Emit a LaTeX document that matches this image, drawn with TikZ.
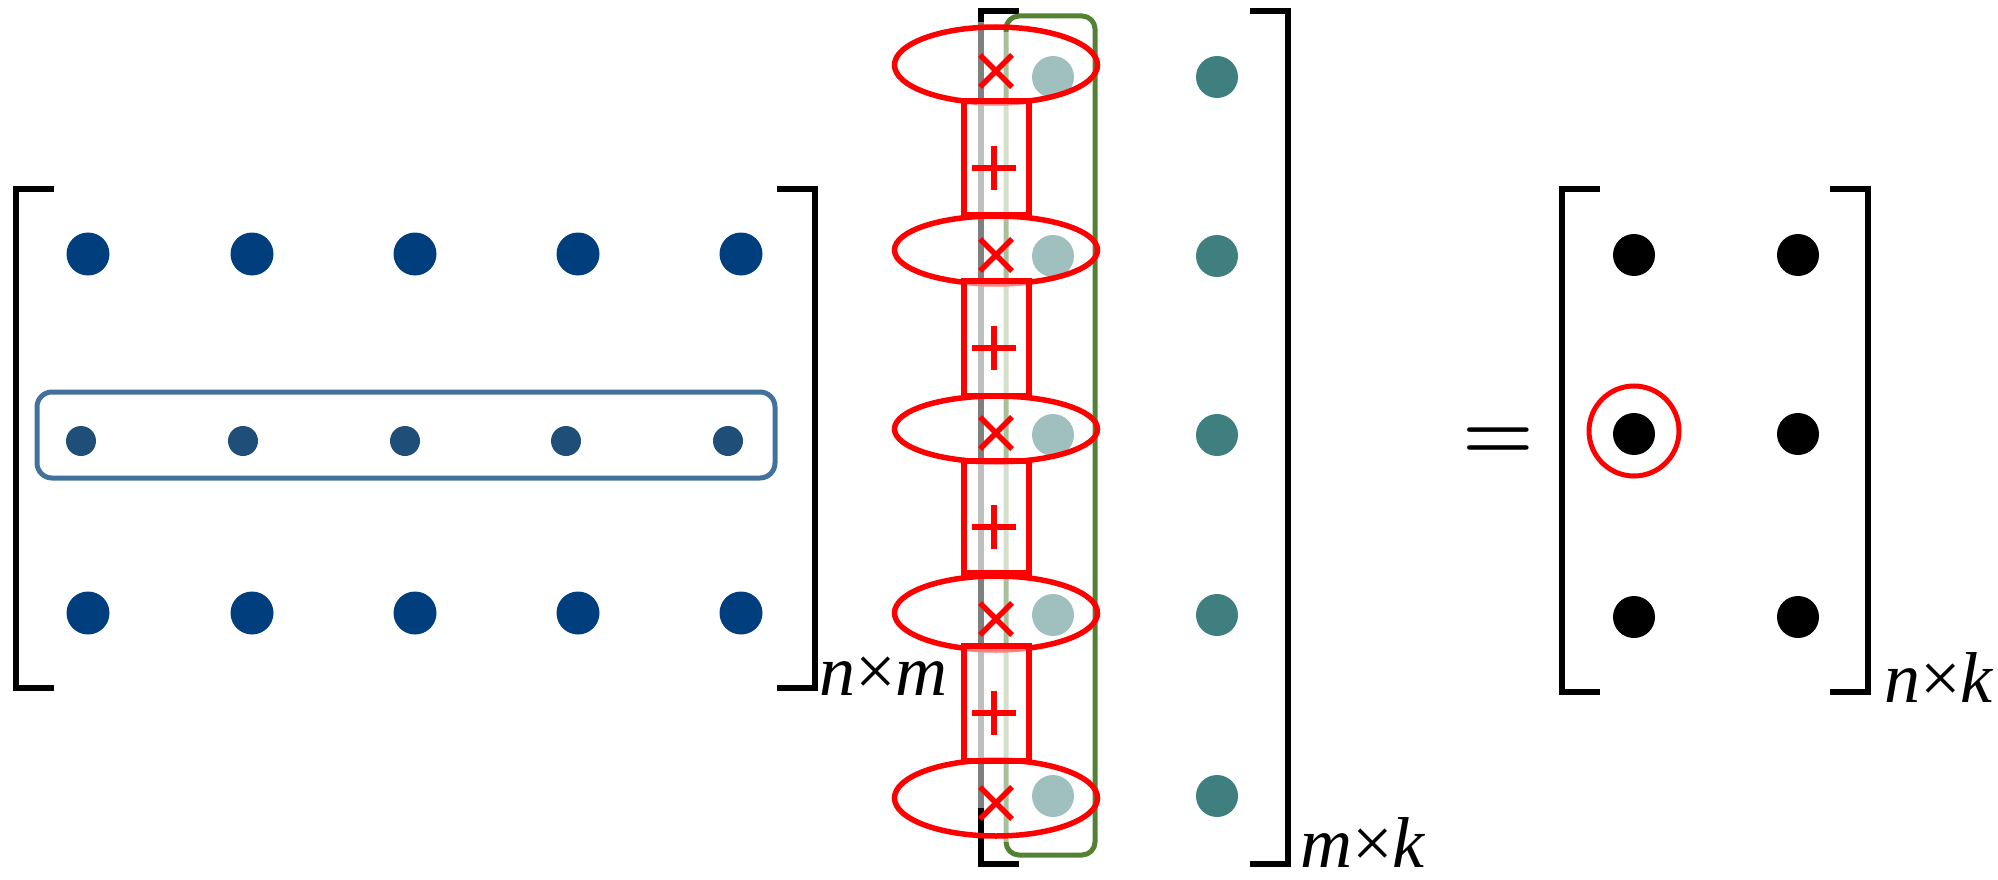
\documentclass[tikz,border=0pt]{standalone}
\usepackage{fontspec}
\newfontfamily\tnr{Liberation Serif}
\usetikzlibrary{shapes.geometric}
\definecolor{dotblue}{HTML}{003E7E}
\definecolor{smallblue}{HTML}{1F4E79}
\definecolor{rowblue}{HTML}{41719C}
\definecolor{tealdark}{HTML}{407F7F}
\definecolor{teallight}{HTML}{A0BFBF}
\definecolor{grn}{HTML}{548235}
\begin{document}
\begin{tikzpicture}[x=1pt,y=-1pt,
  bdot/.style={circle,fill=dotblue,inner sep=0pt,minimum size=43pt},
  sdot/.style={circle,fill=smallblue,inner sep=0pt,minimum size=30pt},
  tdot/.style={circle,fill=tealdark,inner sep=0pt,minimum size=42pt},
  ldot/.style={circle,fill=teallight,inner sep=0pt,minimum size=42pt},
  kdot/.style={circle,fill=black,inner sep=0pt,minimum size=42pt},
  brk/.style={line width=6pt,black,line join=miter},
  redline/.style={red,line width=5.5pt},
  prodell/.style={ellipse,draw=red,line width=5.5pt,inner sep=0pt,minimum width=203pt},
  sumbox/.style={rectangle,draw=red,line width=5.5pt,fill=white,fill opacity=0.5,inner sep=0pt,minimum width=65pt},
  dimlabel/.style={font=\tnr\fontsize{72}{80}\selectfont,inner sep=0pt,anchor=base west},
  veil/.style={white,opacity=0.5}
]
\useasboundingbox (0,0) rectangle (1998,880);

% ---------- left matrix (n x m) ----------
\draw[brk] (54,189) -- (16,189) -- (16,688) -- (54,688);
\draw[brk] (777,189) -- (815,189) -- (815,688) -- (777,688);
\foreach \i/\x in {1/88,2/252,3/415,4/578,5/741}{
  \node[bdot] (a1\i) at (\x,254) {};
  \node[bdot] (a3\i) at (\x,613) {};
}
\foreach \i/\x in {1/81,2/243,3/405,4/566,5/728}{
  \node[sdot] (a2\i) at (\x,441) {};
}
\draw[rowblue,line width=5pt,rounded corners=15pt] (37,392) rectangle (775,478);
\node[dimlabel] (lnm) at (819,695) {\itshape n\upshape ×\itshape m};

% ---------- middle matrix (m x k) ----------
\draw[brk] (1019,11) -- (981,11) -- (981,864) -- (1019,864);
\draw[brk] (1250,11) -- (1288,11) -- (1288,864) -- (1250,864);
\draw[grn,line width=5pt,rounded corners=13pt] (1006,16) rectangle (1095,855);
\fill[veil] (976,22) rectangle (987,808);
\fill[veil] (1001,32) rectangle (1011,842);
\foreach \i/\y in {1/77,2/256,3/435,4/615,5/796}{
  \node[ldot] (b\i1) at (1053,\y) {};
  \node[tdot] (b\i2) at (1217,\y) {};
}
\node[dimlabel] (lmk) at (1300,867) {\itshape m\upshape ×\itshape k};

% products (ellipses and crosses)
\node[prodell,minimum height=76pt] (e1) at (996,65) {};
\node[prodell,minimum height=68pt] (e2) at (996,250) {};
\node[prodell,minimum height=66pt] (e3) at (996,429) {};
\node[prodell,minimum height=74pt] (e4) at (996,613) {};
\node[prodell,minimum height=76pt] (e5) at (996,798) {};

% sums (boxes and plus signs)
\node[sumbox,minimum height=114pt] (s1) at (996.5,158) {};
\node[sumbox,minimum height=115pt] (s2) at (996.5,338.5) {};
\node[sumbox,minimum height=112pt] (s3) at (996.5,517) {};
\node[sumbox,minimum height=115pt] (s4) at (996.5,703.5) {};

\foreach \i/\y in {1/71,2/255,3/433,4/619,5/803}{
  \coordinate (x\i) at (996,\y);
  \draw[redline] (x\i) +(-16,-16) -- +(16,16);
  \draw[redline] (x\i) +(-16,16) -- +(16,-16);
}
\foreach \i/\y in {1/168,2/348,3/527,4/713}{
  \coordinate (p\i) at (994,\y);
  \draw[redline] (p\i) +(-22,0) -- +(22,0);
  \draw[redline] (p\i) +(0,-22) -- +(0,22);
}

% ---------- equals ----------
\node[font=\bfseries\fontsize{82}{90}\selectfont,inner sep=0pt,anchor=base west] (eq) at (1462,459) {=};

% ---------- result matrix (n x k) ----------
\draw[brk] (1600,189) -- (1562,189) -- (1562,692) -- (1600,692);
\draw[brk] (1830,189) -- (1868,189) -- (1868,692) -- (1830,692);
\node[kdot] (c11) at (1634,255) {};
\node[kdot] (c12) at (1798,255) {};
\node[kdot] (c21) at (1634,434) {};
\node[kdot] (c22) at (1798,434) {};
\node[kdot] (c31) at (1634,617) {};
\node[kdot] (c32) at (1798,617) {};
\node[circle,draw=red,line width=5pt,inner sep=0pt,minimum size=90pt] (hl) at (1634,431) {};
\node[dimlabel] (lnk) at (1884,702) {\itshape n\upshape ×\itshape k};
\end{tikzpicture}
\end{document}
